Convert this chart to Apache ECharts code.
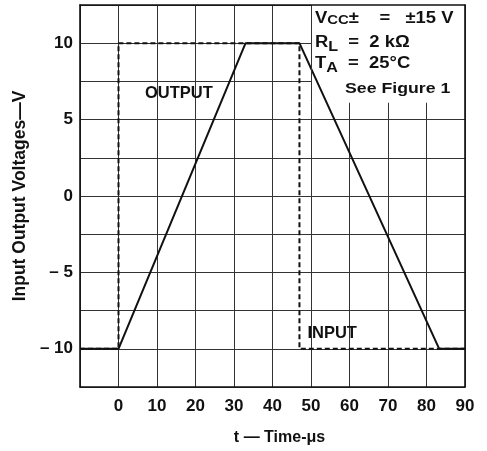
<!DOCTYPE html>
<html>
<head>
<meta charset="utf-8">
<script src="https://cdn.jsdelivr.net/npm/echarts@6/dist/echarts.min.js"></script>
<style>
html,body{margin:0;padding:0;background:#fff;}
#c{width:487px;height:451px;}
</style>
</head>
<body>
<div id="c"></div>
<script>
// ---- data ----
const outputTime = [-10, 0, 33, 47, 83.3, 90];
const outputVolts = [-10, -10, 10, 10, -10, -10];
const inputTime = [-10, 0, 0, 47, 47, 90];
const inputVolts = [-10, -10, 10, 10, -10, -10];
const xTickValues = [0, 10, 20, 30, 40, 50, 60, 70, 80, 90];
const xTickLabels = ['0', '10', '20', '30', '40', '50', '60', '70', '80', '90'];
const yTickValues = [-10, -5, 0, 5, 10];
const yTickLabels = ['\u2013 10', '\u2013 5', '0', '5', '10'];
const xTitle = 't \u2014 Time-\u03bcs';
const yTitle = 'Input Output Voltages\u2014V';

const FONT = '"Liberation Sans", Arial, Helvetica, sans-serif';
const chart = echarts.init(document.getElementById('c'), null, {renderer: 'canvas'});

const outData = outputTime.map((t, i) => [t, outputVolts[i]]);
const inData = inputTime.map((t, i) => [t, inputVolts[i]]);

const gridLine = {show: true, lineStyle: {color: '#333', width: 1}};
const border = {show: true, onZero: false, lineStyle: {color: '#111', width: 1.6}};

const boxFont = {fontFamily: FONT, fontWeight: 'bold', fontSize: 16, fill: '#111'};
const subFont = {fontFamily: FONT, fontWeight: 'bold', fontSize: 14, fill: '#111', padding: [9, 0, 0, 0]};

const option = {
  animation: false,
  backgroundColor: '#fff',
  grid: {left: 80, right: 22, top: 5, bottom: 64, containLabel: false},
  xAxis: [{
    type: 'value', min: -10, max: 90, interval: 10,
    axisLine: border, axisTick: {show: false},
    splitLine: gridLine,
    axisLabel: {
      margin: 11, color: '#111', fontFamily: FONT, fontWeight: 'bold', fontSize: 17,
      formatter: v => { const i = xTickValues.indexOf(v); return i >= 0 ? xTickLabels[i] : ''; }
    },
    name: xTitle, nameLocation: 'middle', nameGap: 43,
    nameTextStyle: {color: '#111', fontFamily: FONT, fontWeight: 'bold', fontSize: 16, padding: [0, 0, 0, 14]}
  }, {
    type: 'value', min: -10, max: 90, position: 'top', z: 10,
    axisLine: border, axisTick: {show: false}, axisLabel: {show: false}, splitLine: {show: false}
  }],
  yAxis: [{
    type: 'value', min: -12.5, max: 12.5, interval: 2.5,
    axisLine: border, axisTick: {show: false},
    splitLine: gridLine,
    axisLabel: {
      margin: 7, color: '#111', fontFamily: FONT, fontWeight: 'bold', fontSize: 17,
      formatter: v => { const i = yTickValues.indexOf(v); return i >= 0 ? yTickLabels[i] : ''; }
    },
    name: yTitle, nameLocation: 'middle', nameGap: 50, nameRotate: 90,
    nameTextStyle: {color: '#111', fontFamily: FONT, fontWeight: 'bold', fontSize: 17.5}
  }, {
    type: 'value', min: -12.5, max: 12.5, position: 'right', z: 10,
    axisLine: border, axisTick: {show: false}, axisLabel: {show: false}, splitLine: {show: false}
  }],
  series: [{
    name: 'box', type: 'line', z: 1, data: [], silent: true,
    markArea: {
      silent: true,
      itemStyle: {color: '#fff', opacity: 1, borderWidth: 0},
      data: [[{coord: [50, 6.1]}, {coord: [90, 12.5]}]]
    }
  }, {
    name: 'INPUT', type: 'line', z: 2, data: inData, symbol: 'none',
    lineStyle: {color: '#111', width: 2, type: [5, 3]}
  }, {
    name: 'OUTPUT', type: 'line', z: 3, data: outData, symbol: 'none',
    lineStyle: {color: '#111', width: 2},
    markLine: {
      silent: true, symbol: 'none', label: {show: false},
      lineStyle: {color: '#333', width: 1, type: 'solid'},
      data: [[{coord: [50, 6.1]}, {coord: [50, 12.5]}]]
    },
    markPoint: {
      silent: true, symbol: 'circle', symbolSize: 0,
      label: {show: true, position: 'inside', color: '#111', fontFamily: FONT, fontWeight: 'bold', fontSize: 16.5},
      data: [
        {coord: [15.7, 6.7], label: {formatter: 'OUTPUT'}},
        {coord: [55.5, -9.0], label: {formatter: 'INPUT'}}
      ]
    }
  }],
  graphic: [
    {type: 'text', x: 315, y: 10, scaleX: 1.15, z: 100, style: {
      text: '{b|V}{c|CC}{b|\u00b1    =   \u00b115 V}', fill: '#111',
      rich: {b: boxFont, c: {fontFamily: FONT, fontWeight: 'bold', fontSize: 13, fill: '#111', padding: [4, 0, 0, 0]}}
    }},
    {type: 'text', x: 315, y: 31, scaleX: 1.15, z: 100, style: {
      text: '{b|R}{s|L}{b|  =  2 k\u03a9}', fill: '#111',
      rich: {b: boxFont, s: subFont}
    }},
    {type: 'text', x: 315, y: 52, scaleX: 1.15, z: 100, style: {
      text: '{b|T}{s|A}{b|  =  25\u00b0C}', fill: '#111',
      rich: {b: boxFont, s: subFont}
    }},
    {type: 'text', x: 345, y: 81, scaleX: 1.18, z: 100, style: {
      text: 'See Figure 1', fill: '#111',
      fontFamily: FONT, fontWeight: 'bold', fontSize: 15
    }}
  ]
};
chart.setOption(option);
</script>
</body>
</html>
